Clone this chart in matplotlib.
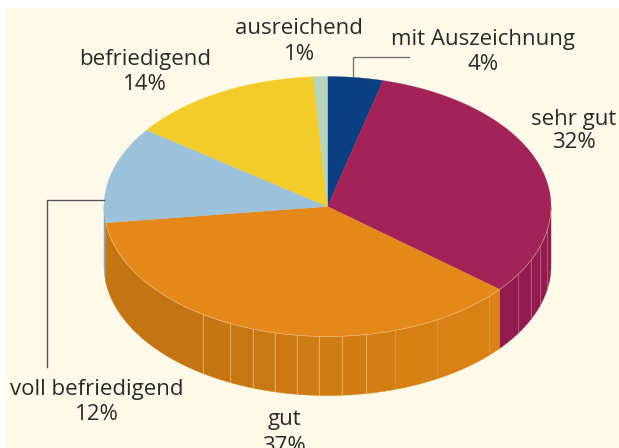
import numpy as np
import matplotlib
matplotlib.use("Agg")
import matplotlib.pyplot as plt
from matplotlib.colors import to_rgb
from matplotlib.patches import Rectangle

# clockwise from 12 o'clock
grades = ["mit Auszeichnung", "sehr gut", "gut", "voll befriedigend", "befriedigend", "ausreichend"]
shares = [4, 32, 37, 12, 14, 1]
top_colors = ["#0A3F82", "#A32257", "#E5881A", "#9CC1DB", "#F2CC2B", "#B6D4BA"]

# facet edges on the rim of the pie, in degrees of the pie
facet_edges = [-123.9, -115.9, -109.6, -103.7, -97.9, -92.3, -86.4, -80.0, -72.3, -60.6, -43.7,
               -31.5, -24.4, -18.0, -10.9]

CX, CY, RX, RY, DEPTH = 327.5, 206.5, 223.5, 130, 59


def rim(t0, t1, drop=0):
    t = np.radians(np.linspace(t0, t1, max(int(abs(t1 - t0) * 2), 2)))
    return CX + RX * np.cos(t), CY - RY * np.sin(t) + drop


def draw_side(ax, t0, t1, color):
    x, y = rim(t0, t1)
    xb, yb = rim(t1, t0, DEPTH)
    ax.fill(np.r_[x, xb], np.r_[y, yb], color=color, lw=0.3)


def main():
    plt.rcParams["font.family"] = ["Open Sans", "DejaVu Sans"]
    fig = plt.figure(figsize=(6.19, 4.48), dpi=100, facecolor="white")
    ax = fig.add_axes([0, 0, 1, 1])
    ax.set_xlim(0, 619)
    ax.set_ylim(448, 0)
    ax.axis("off")
    ax.add_patch(Rectangle((5, 8), 614, 440, color="#FEF9E8", lw=0))

    ends = 90 - np.cumsum(shares) * 3.6
    starts = np.r_[90, ends[:-1]]
    crimson_end, orange_end = ends[1], ends[2]

    # the wall, only the front half shows
    draw_side(ax, -180, orange_end, "#7FA6C4")
    draw_side(ax, crimson_end, 0, "#921C50")

    # orange wall gets lighter to the right, facet by facet
    dark, light = np.array(to_rgb("#C27512")), np.array(to_rgb("#DA8214"))
    bounds = [orange_end] + [e for e in facet_edges if e < crimson_end] + [crimson_end]
    for k in range(len(bounds) - 1):
        draw_side(ax, bounds[k], bounds[k + 1], dark + (light - dark) * k / (len(bounds) - 2))

    for e in facet_edges:
        x, y = rim(e, e + 0.01)
        if e > crimson_end:
            color, alpha = "#C77FA0", 0.7
        elif e > -75:
            color, alpha = "#E8A850", 0.45
        else:
            color, alpha = "#F0C88A", 0.7
        ax.plot([x[0], x[0]], [y[0], y[0] + DEPTH], color=color, lw=0.6, alpha=alpha)

    for i in range(len(shares)):
        x, y = rim(starts[i], ends[i])
        ax.fill(np.r_[CX, x], np.r_[CY, y], color=top_colors[i], lw=0.2)

    # pale edge where the top meets the wall
    x, y = rim(orange_end, 0)
    ax.plot(x, y, color="#F6D9A8", lw=0.5, alpha=0.6)

    # leader lines
    ax.plot([409, 353, 353], [57, 57, 76], color="#777777", lw=1)
    ax.plot([104, 47, 47], [200, 200, 367], color="#555555", lw=1)

    # labels, (x, y of name, y of share)
    spots = [(483, 40, 64), (574, 119, 143), (284, 420, 446), (97, 390, 415), (145, 59, 84), (299, 29, 54)]
    for name, share, (lx, ly, py) in zip(grades, shares, spots):
        ax.text(lx, ly, name, ha="center", va="center", fontsize=16, color="#2B2A29")
        ax.text(lx, py, f"{share}%", ha="center", va="center", fontsize=16, color="#2B2A29")

    fig.savefig("out.png", dpi=100)


if __name__ == "__main__":
    main()
